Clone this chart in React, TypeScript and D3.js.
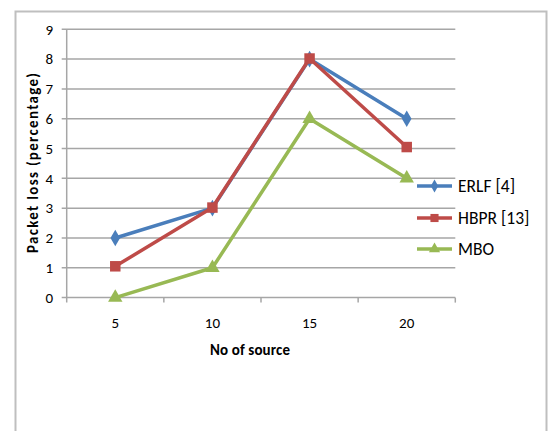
import React from "react";
import * as d3 from "d3";

const categories = ["5", "10", "15", "20"];
const erlf = [2, 3, 8, 6];
const hbpr = [1.05, 3.02, 8.02, 5.05];
const mbo = [0, 1, 6, 4];
const yTicks = [0, 1, 2, 3, 4, 5, 6, 7, 8, 9];
const seriesNames = ["ERLF [4]", "HBPR [13]", "MBO"];
const seriesColors = ["#4A7EBB", "#BE4B48", "#98B954"];
const seriesSymbols = [d3.symbolDiamond, d3.symbolSquare, d3.symbolTriangle];

export default function App() {
  const W = 548, H = 431;
  const left = 66.7, right = 455.3, top = 29.3, bottom = 297.6;
  const x = d3.scaleBand().domain(categories).range([left, right]);
  const y = d3.scaleLinear().domain([0, 9]).range([bottom, top]);
  const data = [erlf, hbpr, mbo];
  const line = d3.line<number>().x((_, i) => x(categories[i])! + x.bandwidth() / 2).y((d) => y(d));
  const symSizes = [80, 110, 90];
  const font = "Calibri, Carlito, Lato, sans-serif";
  const legendY = [186, 218, 249];
  return (
    <svg width={W} height={H} style={{ position: "absolute", left: 0, top: 0 }} fontFamily={font}>
      <rect x={15.5} y={11.5} width={531} height={430} fill="white" stroke="#BFBFBF" strokeWidth={2} />
      {yTicks.map((t) => (
        <g key={t}>
          <line x1={left - 5} x2={right} y1={y(t)} y2={y(t)} stroke="#A6A6A6" strokeWidth={1.5} />
          <text x={53} y={y(t)} dy="0.35em" textAnchor="end" fontSize={15} fill="#000">{t}</text>
        </g>
      ))}
      <line x1={left} x2={left} y1={top} y2={bottom + 5} stroke="#A6A6A6" strokeWidth={1.5} />
      {categories.map((c, i) => (
        <g key={c}>
          <line x1={left + x.step() * (i + 1)} x2={left + x.step() * (i + 1)} y1={bottom} y2={bottom + 5} stroke="#A6A6A6" strokeWidth={1.5} />
          <text x={x(c)! + x.bandwidth() / 2} y={323} dy="0.35em" textAnchor="middle" fontSize={15} fill="#000">{c}</text>
        </g>
      ))}
      <text x={250} y={350} dy="0.35em" textAnchor="middle" fontSize={15} fontWeight="bold" textLength={80} lengthAdjust="spacing">No of source</text>
      <text transform="translate(33,163) rotate(-90)" dy="0.35em" textAnchor="middle" fontSize={15} fontWeight="bold" textLength={180} lengthAdjust="spacing">Packet loss (percentage)</text>
      {data.map((s, k) => (
        <g key={k}>
          <path d={line(s)!} fill="none" stroke={seriesColors[k]} strokeWidth={3.5} strokeLinejoin="round" />
          {s.map((v, i) => (
            <path key={i} transform={`translate(${x(categories[i])! + x.bandwidth() / 2},${y(v)})`} d={d3.symbol(seriesSymbols[k], symSizes[k])()!} fill={seriesColors[k]} />
          ))}
        </g>
      ))}
      {seriesNames.map((n, k) => (
        <g key={n}>
          <line x1={417} x2={452} y1={legendY[k]} y2={legendY[k]} stroke={seriesColors[k]} strokeWidth={3.5} />
          <path transform={`translate(434.5,${legendY[k]})`} d={d3.symbol(seriesSymbols[k], symSizes[k] * 0.6)()!} fill={seriesColors[k]} />
          <text x={458} y={legendY[k]} dy="0.35em" fontSize={17.5} fill="#000">{n}</text>
        </g>
      ))}
    </svg>
  );
}
